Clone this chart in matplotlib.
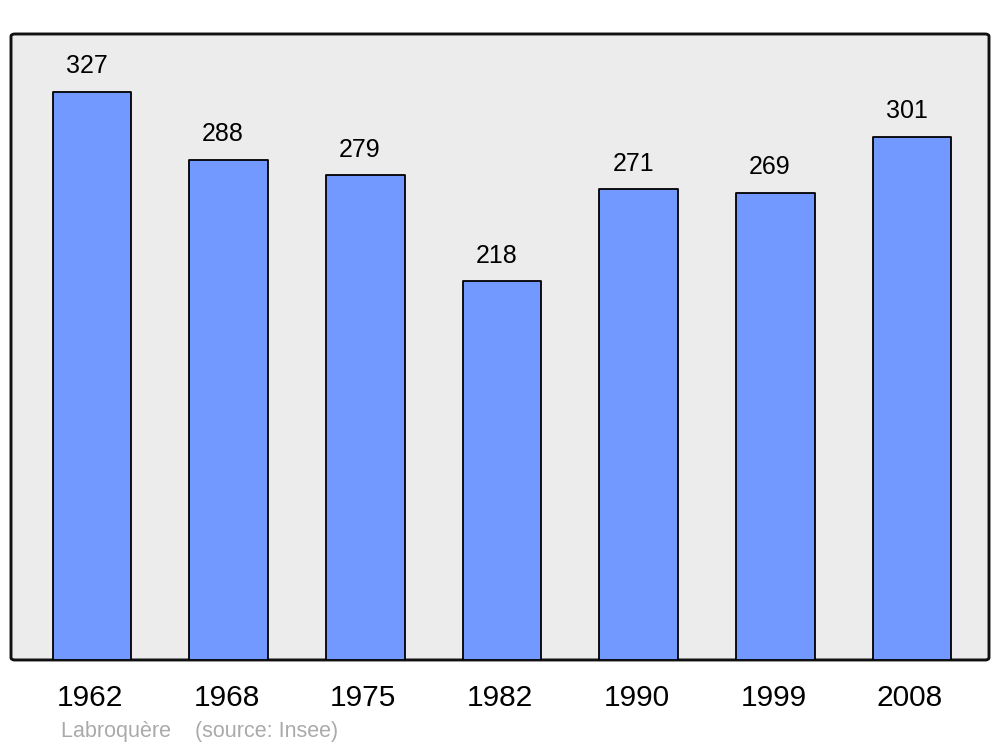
import matplotlib.pyplot as plt
from matplotlib.patches import FancyBboxPatch
from matplotlib.transforms import ScaledTranslation

years = ["1962", "1968", "1975", "1982", "1990", "1999", "2008"]
population = [327, 288, 279, 218, 271, 269, 301]

plt.rcParams['font.family'] = ['Liberation Sans', 'DejaVu Sans']

fig = plt.figure(figsize=(10, 7.47), dpi=100)
ax = fig.add_axes([0.011, 0.1165, 0.978, 0.838])
ax.set_facecolor('none')

# rounded frame with grey background
frame = FancyBboxPatch((0, 0), 1, 1, boxstyle="round,pad=0,rounding_size=0.004",
                       transform=ax.transAxes, facecolor='#ececec',
                       edgecolor='#111111', linewidth=2.1, clip_on=False, zorder=0)
ax.add_patch(frame)

x = list(range(len(years)))
bars = ax.bar(x, population, width=0.575, color='#7299ff', edgecolor='black',
              linewidth=1.3, zorder=2)
for b in bars:
    b.set_joinstyle('round')

for xi, v in zip(x, population):
    ax.annotate(str(v), (xi, v), xytext=(-4, 13.5), textcoords='offset points',
                ha='center', va='baseline', fontsize=18)

ax.set_xlim(-0.593, 6.563)
ax.set_ylim(0, 360.4)
ax.set_xticks(x)
ax.set_xticklabels(years, fontsize=21.5)
ax.tick_params(axis='x', length=0, pad=17.5)
shift = ScaledTranslation(-2 / 100, 0, fig.dpi_scale_trans)
for lab in ax.get_xticklabels():
    lab.set_transform(lab.get_transform() + shift)
ax.set_yticks([])
for s in ax.spines.values():
    s.set_visible(False)

fig.text(0.061, 0.0134, "Labroquère    (source: Insee)", fontsize=15.5,
         color='#aaaaaa', va='baseline')

fig.savefig("out.png", dpi=100)
